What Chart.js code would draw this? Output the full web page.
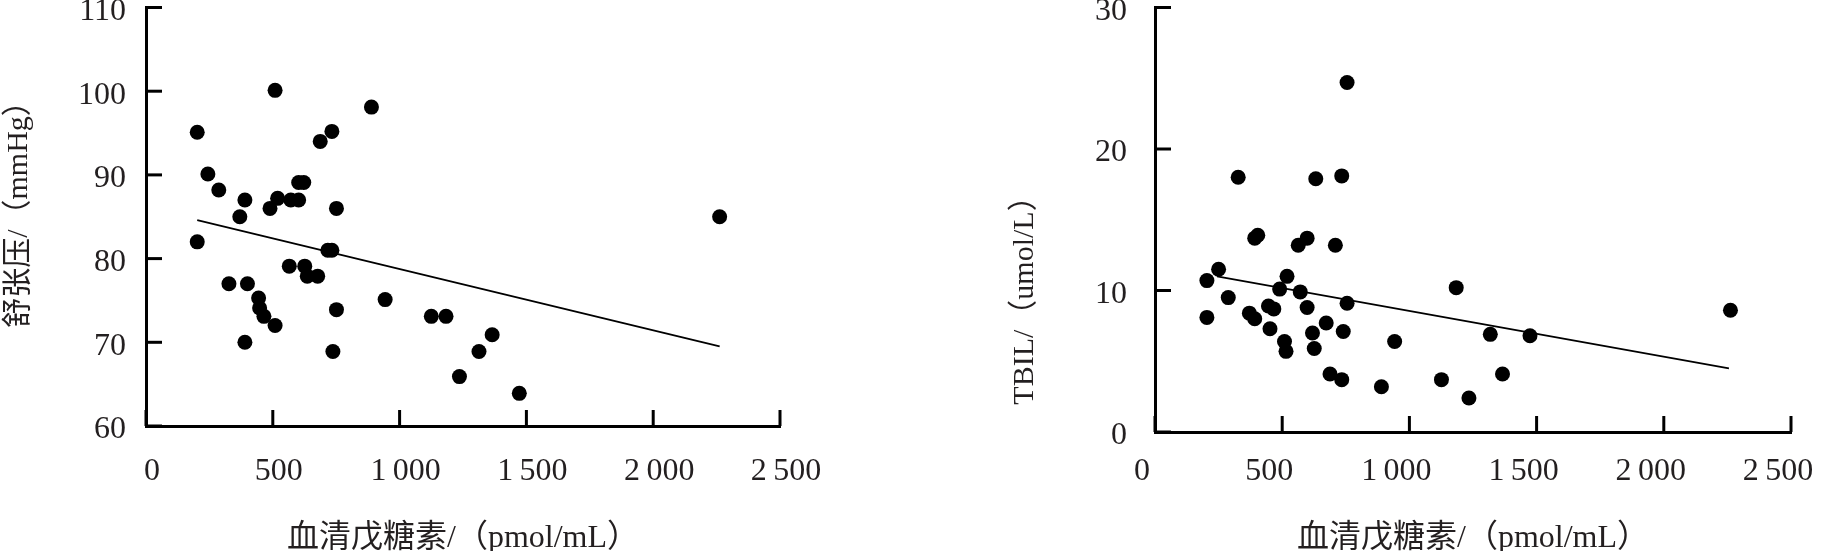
<!DOCTYPE html>
<html>
<head>
<meta charset="utf-8">
<script src="https://cdn.jsdelivr.net/npm/chart.js@4.4.1/dist/chart.umd.min.js"></script>
<style>
  html, body { margin: 0; padding: 0; background: #fff; }
  .box { position: absolute; top: 0; width: 914px; height: 551px; }
  #leftBox { left: 0; }
  #rightBox { left: 914px; }
</style>
</head>
<body>
<div class="box" id="leftBox"><canvas id="dbpChart"></canvas></div>
<div class="box" id="rightBox"><canvas id="tbilChart"></canvas></div>
<script>
// x axis (shared)
const xTickValues = [0, 500, 1000, 1500, 2000, 2500];
const xTickLabels = ['0', '500', '1\u2009000', '1\u2009500', '2\u2009000', '2\u2009500'];
const xTitle = '血清戊糖素/（pmol/mL）';

// left: 舒张压
const dbpX = [202, 202, 244, 287, 390, 370, 327, 400, 390, 444, 448, 465, 509, 509, 489, 519, 571, 602, 602, 622,
              565, 626, 636, 677, 687, 733, 717, 733, 751, 751, 737, 889, 943, 1125, 1183, 1236, 1313, 1365, 1472, 2262];
const dbpY = [95.1, 82.0, 90.1, 88.2, 87.0, 85.0, 77.0, 77.0, 70.0, 75.3, 74.1, 73.1, 72.0, 100.1, 86.0, 87.2, 87.0, 87.0, 89.1, 89.1,
              79.1, 79.1, 77.9, 77.9, 94.0, 95.2, 81.0, 81.0, 86.0, 73.9, 68.9, 98.1, 75.1, 73.1, 73.1, 65.9, 68.9, 70.9, 63.9, 85.0];
const dbpTrendX = [202, 2262];
const dbpTrendY = [84.6, 69.5];
const dbpTicks = [60, 70, 80, 90, 100, 110];
const dbpTitle = '舒张压/（mmHg）';

// right: TBIL
const tbilX = [204, 204, 250, 288, 327, 371, 392, 392, 404, 452, 446, 467, 490, 509, 515, 519, 563, 598, 571, 598,
               619, 626, 632, 673, 688, 709, 734, 734, 740, 755, 755, 890, 942, 1126, 1184, 1234, 1318, 1366, 1474, 2262];
const tbilY = [10.7, 8.1, 11.5, 9.5, 18.0, 8.4, 8.0, 13.7, 13.9, 7.3, 8.9, 8.7, 10.1, 6.4, 5.7, 11.0, 13.2, 13.7, 9.9, 8.8,
               7.0, 5.9, 17.9, 7.7, 4.1, 13.2, 18.1, 3.7, 7.1, 24.7, 9.1, 3.2, 6.4, 3.7, 10.2, 2.4, 6.9, 4.1, 6.8, 8.6];
const tbilTrendX = [244, 2256];
const tbilTrendY = [11.0, 4.5];
const tbilTicks = [0, 10, 20, 30];
const tbilTitle = 'TBIL/（umol/L）';

const fontFamily = '"Liberation Serif", "Noto Sans CJK SC", serif';
const ink = '#231f20';

// inward tick marks + rotated y title
const axisMarks = {
  id: 'axisMarks',
  afterDraw(chart, args, opts) {
    const { ctx, chartArea, scales } = chart;
    ctx.save();
    ctx.strokeStyle = '#000';
    ctx.lineWidth = 3;
    scales.y.ticks.forEach(t => {
      const y = scales.y.getPixelForValue(t.value);
      ctx.beginPath();
      ctx.moveTo(chartArea.left, y);
      ctx.lineTo(chartArea.left + 16, y);
      ctx.stroke();
    });
    scales.x.ticks.forEach(t => {
      const x = scales.x.getPixelForValue(t.value);
      ctx.beginPath();
      ctx.moveTo(x, chartArea.bottom);
      ctx.lineTo(x, chartArea.bottom - 16);
      ctx.stroke();
    });
    ctx.translate(opts.titleX, opts.titleY);
    ctx.rotate(-Math.PI / 2);
    ctx.font = '30px ' + fontFamily;
    ctx.fillStyle = ink;
    ctx.textAlign = 'center';
    ctx.textBaseline = 'middle';
    ctx.fillText(opts.text, 0, 0);
    ctx.restore();
  }
};

function makeChart(id, xs, ys, trendX, trendY, yTicks, yTitle, box) {
  const pts = xs.map((x, i) => ({ x: x, y: ys[i] }));
  const trend = trendX.map((x, i) => ({ x: x, y: trendY[i] }));
  return new Chart(document.getElementById(id), {
    type: 'scatter',
    data: {
      datasets: [{
        data: pts,
        pointRadius: 7.5,
        pointBackgroundColor: '#000',
        pointBorderWidth: 0
      }, {
        data: trend,
        showLine: true,
        borderColor: '#000',
        borderWidth: 1.8,
        pointRadius: 0
      }]
    },
    options: {
      responsive: true,
      maintainAspectRatio: false,
      animation: false,
      layout: { padding: { top: 7, right: box.padRight, left: 0, bottom: 0 } },
      plugins: {
        legend: { display: false },
        tooltip: { enabled: false },
        axisMarks: { text: yTitle, titleX: box.titleX, titleY: box.titleY }
      },
      scales: {
        x: {
          type: 'linear',
          min: 0,
          max: 2500,
          grid: { display: false, drawTicks: false },
          border: { display: true, color: '#000', width: 3 },
          afterBuildTicks: s => { s.ticks = xTickValues.map(v => ({ value: v })); },
          ticks: {
            padding: box.xPad,
            labelOffset: box.xLabelOffset,
            maxRotation: 0,
            autoSkip: false,
            color: ink,
            font: { family: fontFamily, size: 32 },
            callback: v => xTickLabels[xTickValues.indexOf(v)]
          },
          title: {
            display: true,
            text: xTitle,
            color: ink,
            padding: 0,
            font: { family: fontFamily, size: 32, lineHeight: '24px' }
          },
          afterFit: s => { s.height = box.xHeight; s.paddingLeft = 0; s.paddingRight = 0; }
        },
        y: {
          min: yTicks[0],
          max: yTicks[yTicks.length - 1],
          grid: { display: false, drawTicks: false },
          border: { display: true, color: '#000', width: 3 },
          afterBuildTicks: s => { s.ticks = yTicks.map(v => ({ value: v })); },
          ticks: {
            padding: box.yPad,
            labelOffset: 4,
            color: ink,
            font: { family: fontFamily, size: 32 }
          },
          afterFit: s => { s.width = box.yWidth; s.paddingTop = 0; s.paddingBottom = 0; }
        }
      }
    },
    plugins: [axisMarks]
  });
}

makeChart('dbpChart', dbpX, dbpY, dbpTrendX, dbpTrendY, dbpTicks, dbpTitle,
  { yWidth: 146, padRight: 134, xHeight: 125, xPad: 26, yPad: 20, xLabelOffset: 6, titleX: 19, titleY: 207 });
makeChart('tbilChart', tbilX, tbilY, tbilTrendX, tbilTrendY, tbilTicks, tbilTitle,
  { yWidth: 241, padRight: 37, xHeight: 119, xPad: 20, yPad: 28, xLabelOffset: -13, titleX: 111, titleY: 293 });
</script>
</body>
</html>
